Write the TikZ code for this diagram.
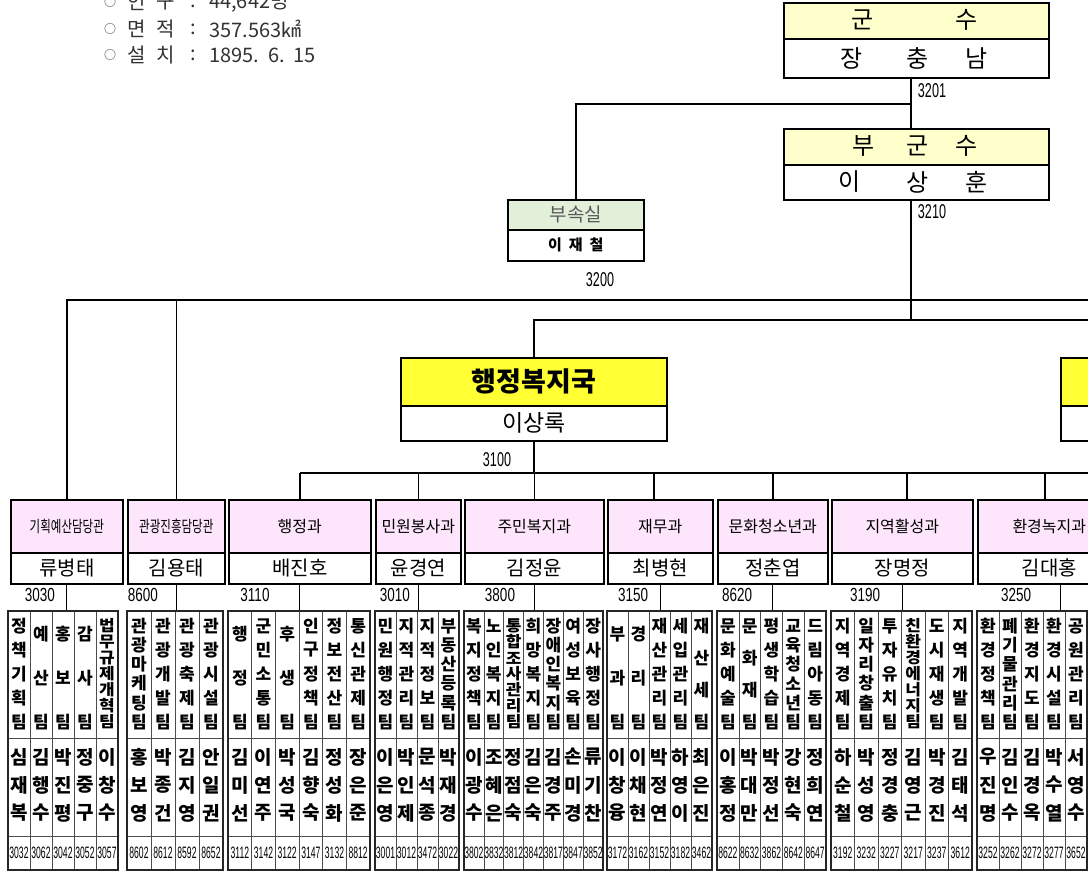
\documentclass[tikz,border=0pt]{standalone}
\usepackage{fontspec}
\usepackage{graphicx}
\setmainfont{Noto Sans CJK KR}
\newfontfamily\numf{Liberation Sans}
\definecolor{ylw}{HTML}{FFFFCC}
\definecolor{grn}{HTML}{E2F0DA}
\definecolor{kuk}{HTML}{FFFF33}
\definecolor{pnk}{HTML}{FDE6FB}
\newcommand\setgrp[4]{\def\gid{#1}\def\gx{#2}\def\gw{#3}%
  \pgfmathsetmacro\gxa{#2+#3*#4}%
  \draw[gin] (#2,738) -- (\gxa,738) (#2,836) -- (\gxa,836);
  \foreach \k in {2,...,#4} {\draw[gin] ({#2+(\k-1)*#3},611) -- ({#2+(\k-1)*#3},870);}
  \draw[gout] (#2,611) rectangle (\gxa,870);
}
\newcommand\team[5]{%
  \pgfmathsetmacro\cx{\gx+(#1-0.5)*\gw}%
  \pgfmathsetmacro\tp{#2==3 ? 634 : 626}%
  \pgfmathsetmacro\spc{(722-\tp)/(#2-1)}%
  \pgfmathsetmacro\ys{min(1,\spc/17.5)}%
  \foreach \c [count=\i] in {#3} {\node[tm,yscale=\ys] (t\gid-#1-\i) at (\cx,{\tp+(\i-1)*\spc}) {\c};}
  \foreach \c [count=\i] in {#4} {\node[nm] (p\gid-#1-\i) at (\cx,{757+(\i-1)*28}) {\c};}
  \node[ph] (h\gid-#1) at (\cx,853) {#5};
}
\newcommand\dept[5]{%
  \node[bx, fill=pnk, minimum width={#3pt-#2pt}, minimum height=53pt, font=\fontsize{16}{16}\selectfont] (#1h) at (#2,499) {#4};
  \node[bx, fill=white, minimum width={#3pt-#2pt}, minimum height=31pt, font=\fontsize{20}{20}\selectfont] (#1n) at (#2,552) {#5};
}
\newcommand\infoline[6]{%
  \node[info, font=\fontsize{12}{12}\selectfont] (#1o) at (110,#2) {○};
  \node[info] (#1a) at (137,#2) {#3};
  \node[info] (#1b) at (166,#2) {#4};
  \node[info] (#1c) at (193,#2) {:};
  \node[info, anchor=west] (#1d) at (209,#2) {#5};
}
\begin{document}
\begin{tikzpicture}[x=1pt,y=-1pt,
  conn/.style={line width=1.6pt},
  tconn/.style={line width=0.8pt},
  bx/.style={draw, line width=1.6pt, inner sep=0pt, anchor=north west, rectangle},
  big/.style={font=\fontsize{24}{24}\selectfont, inner sep=0pt},
  num/.style={font=\numf\fontsize{20}{20}\selectfont, xscale=0.63, inner sep=0pt},
  dnum/.style={font=\numf\fontsize{19}{19}\selectfont, xscale=0.71, inner sep=0pt},
  tm/.style={font=\bfseries\fontsize{17}{17}\selectfont, inner sep=0pt},
  nm/.style={font=\bfseries\fontsize{19}{19}\selectfont, inner sep=0pt},
  ph/.style={font=\numf\fontsize{16.5}{16.5}\selectfont, xscale=0.52, inner sep=0pt},
  info/.style={font=\fontsize{20}{20}\selectfont, text=black!80, inner sep=0pt},
  gin/.style={line width=0.6pt, black!70},
  gout/.style={line width=1.2pt, black!85},
]
\clip (0,0) rectangle (1088,874);
\fill[white] (0,0) rectangle (1088,874);

% info text
\infoline{iA}{2}{인}{구}{44,642명}{}
\infoline{iB}{29}{면}{적}{357.563㎢}{}
\infoline{iC}{55}{설}{치}{1895.\hspace{9pt}6.\hspace{9pt}15}{}

% top boxes
\node[bx, fill=ylw, minimum width=265pt, minimum height=36pt] (GSh) at (783,2) {};
\node[bx, fill=white, minimum width=265pt, minimum height=39pt] (GSn) at (783,38) {};
\node[big] (gs1) at (863,20) {군};
\node[big] (gs2) at (967,20) {수};
\node[big] (gs3) at (852,58) {장};
\node[big] (gs4) at (918,58) {충};
\node[big] (gs5) at (977,58) {남};
\node[bx, fill=ylw, minimum width=265pt, minimum height=36pt] (BGh) at (783,128) {};
\node[bx, fill=white, minimum width=265pt, minimum height=35pt] (BGn) at (783,164) {};
\node[big] (bg1) at (864,146) {부};
\node[big] (bg2) at (918,146) {군};
\node[big] (bg3) at (967,146) {수};
\node[big] (bg4) at (850,182) {이};
\node[big] (bg5) at (918,182) {상};
\node[big] (bg6) at (977,182) {훈};
\node[bx, fill=grn, minimum width=136pt, minimum height=30pt, font=\fontsize{19}{19}\selectfont, text=black!65] (BSh) at (507,199) {부속실};
\node[bx, fill=white, minimum width=136pt, minimum height=31pt, font=\bfseries\fontsize{15}{15}\selectfont] (BSn) at (507,229) {이\hspace{7pt}재\hspace{7pt}철};

\node[num] (n3201) at (932,91) {3201};
\node[num] (n3210) at (932,212) {3210};
\node[num] (n3200) at (600,280) {3200};
\node[num] (n3100) at (497,460) {3100};

% bureau boxes
\node[bx, fill=kuk, minimum width=266pt, minimum height=48pt, font=\bfseries\fontsize{27}{27}\selectfont] (K1h) at (400,357) {행정복지국};
\node[bx, fill=white, minimum width=266pt, minimum height=35pt, font=\fontsize{23}{23}\selectfont] (K1n) at (400,405) {이상록};
\node[bx, fill=kuk, minimum width=266pt, minimum height=48pt] (K2h) at (1060,357) {};
\node[bx, fill=white, minimum width=266pt, minimum height=35pt] (K2n) at (1060,405) {};

% departments
\dept{D1}{10}{122}{\scalebox{0.72}[1]{기획예산담당관}}{류병태}
\dept{D2}{127}{224}{\scalebox{0.72}[1]{관광진흥담당관}}{김용태}
\dept{D3}{228}{370}{행정과}{배진호}
\dept{D4}{375}{460}{민원봉사과}{윤경연}
\dept{D5}{464}{603}{주민복지과}{김정윤}
\dept{D6}{607}{712}{재무과}{최병현}
\dept{D7}{717}{827}{문화청소년과}{정춘엽}
\dept{D8}{831}{972}{지역활성과}{장명정}
\dept{D9}{977}{1120}{환경녹지과}{김대홍}

\node[dnum] (m1) at (40,595) {3030};
\node[dnum] (m2) at (143,595) {8600};
\node[dnum] (m3) at (255,595) {3110};
\node[dnum] (m4) at (395,595) {3010};
\node[dnum] (m5) at (500,595) {3800};
\node[dnum] (m6) at (633,595) {3150};
\node[dnum] (m7) at (737,595) {8620};
\node[dnum] (m8) at (865,595) {3190};
\node[dnum] (m9) at (1016,595) {3250};

% connectors
\coordinate (jA) at (911,104);
\coordinate (bus) at (0,300);
\coordinate (bus2) at (0,320);
\coordinate (kb) at (0,473);
\coordinate (tt) at (0,611);
\coordinate (R) at (1095,0);
\coordinate (x6) at (654,0);
\coordinate (x8) at (907,0);
\coordinate (x9) at (1045,0);
\coordinate (y9) at (1060,0);
\draw[conn] (GSn.south -| jA) -- (BGh.north -| jA);
\draw[conn] (jA) -| (BSh.north);
\draw[conn] (BGn.south -| jA) -- (jA |- bus2);
\draw[conn] (D1h.north) -- (D1h.north |- bus) -- (R |- bus);
\draw[conn] (D2h.north) -- (D2h.north |- bus);
\draw[conn] (K1h.north) -- (K1h.north |- bus2) -- (R |- bus2);
\draw[conn] (K1n.south) -- (K1n.south |- kb);
\draw[conn] (D3h.north |- kb) -- (R |- kb);
\foreach \d in {D3h,D4h,D5h,D7h} {\draw[conn] (\d.north) -- (\d.north |- kb);}
\draw[conn] (D6h.north -| x6) -- (x6 |- kb);
\draw[conn] (D8h.north -| x8) -- (x8 |- kb);
\draw[conn] (D9h.north -| x9) -- (x9 |- kb);
\foreach \d in {D1n,D2n,D3n,D4n,D5n,D6n,D7n,D8n} {\draw[tconn] (\d.south) -- (\d.south |- tt);}
\draw[tconn] (D9n.south -| y9) -- (y9 |- tt);

% teams
\setgrp{a}{8}{22}{5}
\team{1}{5}{정,책,기,획,팀}{심,재,복}{3032}
\team{2}{3}{예,산,팀}{김,행,수}{3062}
\team{3}{3}{홍,보,팀}{박,진,평}{3042}
\team{4}{3}{감,사,팀}{정,중,구}{3052}
\team{5}{7}{법,무,규,제,개,혁,팀}{이,창,수}{3057}

\setgrp{b}{127}{24}{4}
\team{1}{6}{관,광,마,케,팅,팀}{홍,보,영}{8602}
\team{2}{5}{관,광,개,발,팀}{박,종,건}{8612}
\team{3}{5}{관,광,축,제,팀}{김,지,영}{8592}
\team{4}{5}{관,광,시,설,팀}{안,일,권}{8652}

\setgrp{c}{228}{23.67}{6}
\team{1}{3}{행,정,팀}{김,미,선}{3112}
\team{2}{5}{군,민,소,통,팀}{이,연,주}{3142}
\team{3}{3}{후,생,팀}{박,성,국}{3122}
\team{4}{5}{인,구,정,책,팀}{김,향,숙}{3147}
\team{5}{5}{정,보,전,산,팀}{정,성,화}{3132}
\team{6}{5}{통,신,관,제,팀}{장,은,준}{8812}

\setgrp{d}{375}{21}{4}
\team{1}{5}{민,원,행,정,팀}{이,은,영}{3001}
\team{2}{5}{지,적,관,리,팀}{박,인,제}{3012}
\team{3}{5}{지,적,정,보,팀}{문,석,종}{3472}
\team{4}{6}{부,동,산,등,록,팀}{박,재,경}{3022}

\setgrp{e}{464}{19.86}{7}
\team{1}{5}{복,지,정,책,팀}{이,광,수}{3802}
\team{2}{5}{노,인,복,지,팀}{조,혜,은}{3832}
\team{3}{7}{통,합,조,사,관,리,팀}{정,점,숙}{3812}
\team{4}{5}{희,망,복,지,팀}{김,은,숙}{3842}
\team{5}{6}{장,애,인,복,지,팀}{김,경,주}{3817}
\team{6}{5}{여,성,보,육,팀}{손,미,경}{3847}
\team{7}{5}{장,사,행,정,팀}{류,기,찬}{3852}

\setgrp{f}{607}{21}{5}
\team{1}{3}{부,과,팀}{이,창,융}{3172}
\team{2}{3}{경,리,팀}{이,채,현}{3162}
\team{3}{5}{재,산,관,리,팀}{박,정,연}{3152}
\team{4}{5}{세,입,관,리,팀}{하,영,이}{3182}
\team{5}{4}{재,산,세,팀}{최,은,진}{3462}

\setgrp{g}{717}{21.8}{5}
\team{1}{5}{문,화,예,술,팀}{이,홍,정}{8622}
\team{2}{4}{문,화,재,팀}{박,대,만}{8632}
\team{3}{5}{평,생,학,습,팀}{박,정,선}{3862}
\team{4}{6}{교,육,청,소,년,팀}{강,현,숙}{8642}
\team{5}{5}{드,림,아,동,팀}{정,희,연}{8647}

\setgrp{h}{831}{23.5}{6}
\team{1}{5}{지,역,경,제,팀}{하,순,철}{3192}
\team{2}{6}{일,자,리,창,출,팀}{박,성,영}{3232}
\team{3}{5}{투,자,유,치,팀}{정,경,충}{3227}
\team{4}{7}{친,환,경,에,너,지,팀}{김,영,근}{3217}
\team{5}{5}{도,시,재,생,팀}{박,경,진}{3237}
\team{6}{5}{지,역,개,발,팀}{김,태,석}{3612}

\setgrp{i}{977}{22}{5}
\team{1}{5}{환,경,정,책,팀}{우,진,명}{3252}
\team{2}{6}{폐,기,물,관,리,팀}{김,인,수}{3262}
\team{3}{5}{환,경,지,도,팀}{김,경,옥}{3272}
\team{4}{5}{환,경,시,설,팀}{박,수,열}{3277}
\team{5}{5}{공,원,관,리,팀}{서,영,수}{3652}
\end{tikzpicture}
\end{document}
